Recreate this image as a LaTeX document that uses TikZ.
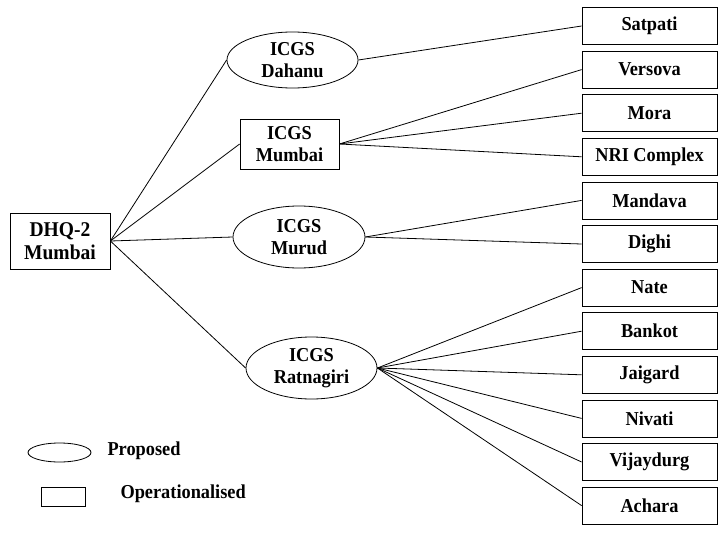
\documentclass[tikz,border=0pt]{standalone}
\usepackage{fontspec}
\setmainfont[FakeStretch=0.93]{Liberation Serif}
\usetikzlibrary{shapes.geometric,positioning}

\begin{document}
\begin{tikzpicture}[x=1pt, y=1pt, node distance=43.6pt, auto,
		every node/.style={font=\bfseries\fontsize{19.7}{22}\selectfont, align=center},
		stn/.style={draw, line width=0.8pt, minimum width=135pt, minimum height=37pt, inner sep=0pt},
		prop/.style={draw, ellipse, line width=0.8pt, minimum width=131pt, minimum height=56pt, inner sep=0pt},
		oper/.style={draw, rectangle, line width=0.8pt, inner sep=0pt},
		link/.style={line width=0.8pt}]
		\useasboundingbox (0,0) rectangle (719,-532);
		\node[oper, minimum width=100pt, minimum height=56pt, font=\bfseries\fontsize{21}{23}\selectfont] (D) at (60,-241) {DHQ-2\\Mumbai};
		\node[prop] (Dah) at (292.5,-60) {ICGS\\Dahanu};
		\node[oper, minimum width=99pt, minimum height=50pt] (Mum) at (289.5,-144) {ICGS\\Mumbai};
		\node[prop, minimum width=132pt, minimum height=62pt] (Mur) at (299,-237) {ICGS\\Murud};
		\node[prop, minimum height=62pt] (Rat) at (311.5,-368) {ICGS\\Ratnagiri};
		% stations on the right
		\node[stn] (S1) at (649.5,-26) {Satpati};
		\node[stn] (S2) [below of=S1] {Versova};
		\node[stn] (S3) [below of=S2] {Mora};
		\node[stn] (S4) [below of=S3] {NRI Complex};
		\node[stn] (S5) [below of=S4] {Mandava};
		\node[stn] (S6) [below of=S5] {Dighi};
		\node[stn] (S7) [below of=S6] {Nate};
		\node[stn] (S8) [below of=S7] {Bankot};
		\node[stn] (S9) [below of=S8] {Jaigard};
		\node[stn] (S10) [below of=S9] {Nivati};
		\node[stn] (S11) [below of=S10] {Vijaydurg};
		\node[stn] (S12) [below of=S11] {Achara};
		% legend
		\node[prop, minimum width=63pt, minimum height=19pt] (LP) at (59.5,-452.5) {};
		\node[anchor=west] (LPt) at (104,-451) {Proposed};
		\node[oper, minimum width=44pt, minimum height=19pt] (LO) at (63,-496.5) {};
		\node[anchor=west] (LOt) at (117,-494) {Operationalised};
		\draw[link] (D.east) to (Dah.west);
		\draw[link] (D.east) to (Mum.west);
		\draw[link] (D.east) to (Mur.west);
		\draw[link] (D.east) to (Rat.west);
		\draw[link] (Dah.east) to (S1.west);
		\draw[link] (Mum.east) to (S2.west);
		\draw[link] (Mum.east) to (S3.west);
		\draw[link] (Mum.east) to (S4.west);
		\draw[link] (Mur.east) to (S5.west);
		\draw[link] (Mur.east) to (S6.west);
		\draw[link] (Rat.east) to (S7.west);
		\draw[link] (Rat.east) to (S8.west);
		\draw[link] (Rat.east) to (S9.west);
		\draw[link] (Rat.east) to (S10.west);
		\draw[link] (Rat.east) to (S11.west);
		\draw[link] (Rat.east) to (S12.west);
	\end{tikzpicture}
\end{document}
